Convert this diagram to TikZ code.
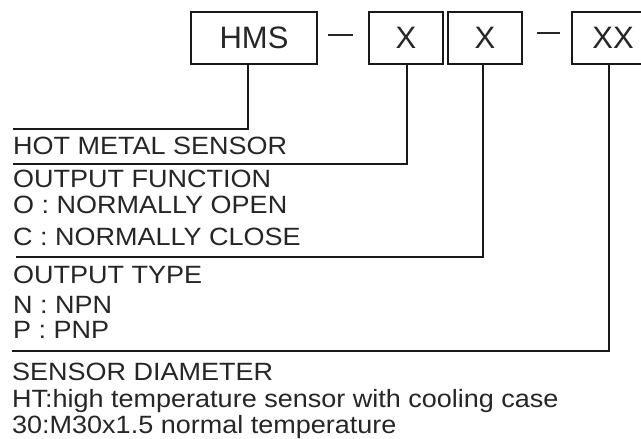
\documentclass[tikz,border=0pt]{standalone}
\usepackage{fontspec}
\setmainfont{Liberation Sans}
\newfontfamily\descfont[FakeStretch=1.08]{Liberation Sans}
\begin{document}
\begin{tikzpicture}[x=1pt,y=-1pt,
  codebox/.style={draw=black!90, line width=2pt, inner sep=0pt, font=\fontsize{31}{31}\selectfont, text=black!85},
  lead/.style={draw=black!90, line width=2pt},
  desc/.style={anchor=base west, inner sep=0pt, font=\descfont\fontsize{25}{25}\selectfont, text=black!85}]
\useasboundingbox (0,0) rectangle (641,439);
% code boxes
\node[codebox, minimum width=126pt, minimum height=52pt] (hms) at (254,38) {HMS};
\node[codebox, minimum width=74pt, minimum height=52pt] (xa) at (406,38) {X};
\node[codebox, minimum width=74pt, minimum height=52pt] (xb) at (485,38) {X};
\node[codebox, minimum width=82pt, minimum height=52pt] (xx) at (613,38) {XX};
% dashes
\coordinate (d1a) at (328,35); \coordinate (d1b) at (353,35);
\coordinate (d2a) at (537,33); \coordinate (d2b) at (560,33);
\draw[line width=1.2pt, black!85] (d1a) -- (d1b);
\draw[line width=1.2pt, black!85] (d2a) -- (d2b);
% leader ends
\coordinate (e1) at (13,129);
\coordinate (e2) at (13,164);
\coordinate (e3) at (16,257);
\coordinate (e4) at (12,351);
\draw[lead] ([xshift=-6pt]hms.south) |- (e1);
\draw[lead] ([xshift=1pt]xa.south) |- (e2);
\draw[lead] ([xshift=-2pt]xb.south) |- (e3);
\draw[lead] ([xshift=-4pt]xx.south) |- (e4);
% descriptions
\node[desc] (t1) at (13,154) {HOT METAL SENSOR};
\node[desc] (t2) at (13,187) {OUTPUT FUNCTION};
\node[desc] (t3) at (13,213) {O : NORMALLY OPEN};
\node[desc] (t4) at (13,245) {C : NORMALLY CLOSE};
\node[desc] (t5) at (13,283) {OUTPUT TYPE};
\node[desc] (t6) at (13,313) {N : NPN};
\node[desc] (t7) at (13,338) {P : PNP};
\node[desc] (t8) at (12,380) {SENSOR DIAMETER};
\node[desc] (t9) at (12,407) {HT:high temperature sensor with cooling case};
\node[desc] (t10) at (12,433) {30:M30x1.5 normal temperature};
\end{tikzpicture}
\end{document}
